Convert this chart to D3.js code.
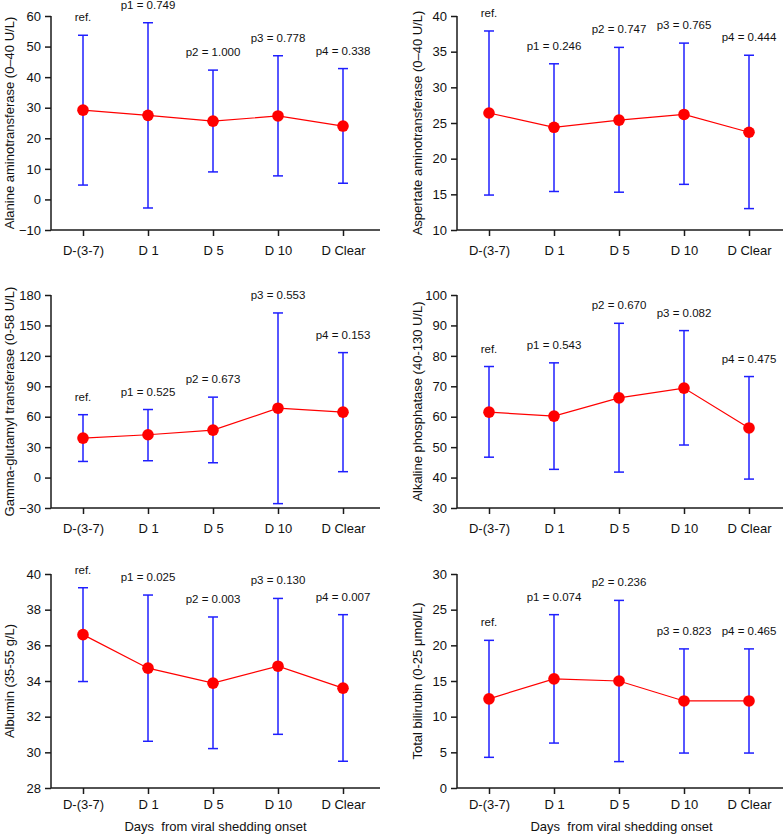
<!DOCTYPE html>
<html>
<head>
<meta charset="utf-8">
<script src="https://cdn.jsdelivr.net/npm/d3@7"></script>
<style>
  html, body { margin: 0; padding: 0; background: #fff; }
  svg { display: block; font-family: "Liberation Sans", Arial, Helvetica, sans-serif; }
</style>
</head>
<body>
<svg id="chart" width="783" height="835"></svg>
<script>
const categories = ["D-(3-7)", "D 1", "D 5", "D 10", "D Clear"];

const altMean  = [29.2, 27.5, 25.6, 27.3, 24.0];
const altUpper = [53.7, 57.8, 42.3, 47.0, 42.8];
const altLower = [4.7, -2.8, 9.0, 7.7, 5.3];
const altP     = ["ref.", "p1 = 0.749", "p2 = 1.000", "p3 = 0.778", "p4 = 0.338"];
const altTicks = [-10, 0, 10, 20, 30, 40, 50, 60];

const astMean  = [26.4, 24.4, 25.4, 26.2, 23.7];
const astUpper = [37.9, 33.3, 35.6, 36.2, 34.5];
const astLower = [14.9, 15.4, 15.3, 16.4, 13.0];
const astP     = ["ref.", "p1 = 0.246", "p2 = 0.747", "p3 = 0.765", "p4 = 0.444"];
const astTicks = [10, 15, 20, 25, 30, 35, 40];

const ggtMean  = [38.9, 42.2, 46.8, 68.4, 64.5];
const ggtUpper = [62.0, 67.1, 79.3, 162.3, 123.2];
const ggtLower = [15.9, 16.6, 14.6, -25.7, 5.8];
const ggtP     = ["ref.", "p1 = 0.525", "p2 = 0.673", "p3 = 0.553", "p4 = 0.153"];
const ggtTicks = [-30, 0, 30, 60, 90, 120, 150, 180];

const alpMean  = [61.5, 60.2, 66.2, 69.4, 56.3];
const alpUpper = [76.5, 77.7, 90.7, 88.3, 73.2];
const alpLower = [46.7, 42.7, 41.8, 50.7, 39.5];
const alpP     = ["ref.", "p1 = 0.543", "p2 = 0.670", "p3 = 0.082", "p4 = 0.475"];
const alpTicks = [30, 40, 50, 60, 70, 80, 90, 100];

const albMean  = [36.6, 34.72, 33.88, 34.83, 33.6];
const albUpper = [39.23, 38.82, 37.59, 38.63, 37.72];
const albLower = [33.97, 30.62, 30.21, 31.01, 29.5];
const albP     = ["ref.", "p1 = 0.025", "p2 = 0.003", "p3 = 0.130", "p4 = 0.007"];
const albTicks = [28, 30, 32, 34, 36, 38, 40];

const tbilMean  = [12.5, 15.3, 15.0, 12.2, 12.2];
const tbilUpper = [20.7, 24.3, 26.3, 19.5, 19.5];
const tbilLower = [4.3, 6.3, 3.7, 4.9, 4.9];
const tbilP     = ["ref.", "p1 = 0.074", "p2 = 0.236", "p3 = 0.823", "p4 = 0.465"];
const tbilTicks = [0, 5, 10, 15, 20, 25, 30];

const xTitle = "Days  from viral shedding onset";

const panels = [
  { title: "Alanine aminotransferase (0\u201340 U/L)", mean: altMean, upper: altUpper, lower: altLower, p: altP, ticks: altTicks,
    x0: 51, top: 16, bottom: 230, labGap: 25, titleX: 9, xTitle: false },
  { title: "Aspertate aminotransferase (0\u201340 U/L)", mean: astMean, upper: astUpper, lower: astLower, p: astP, ticks: astTicks,
    x0: 457, top: 16, bottom: 230, labGap: 25, titleX: 417, xTitle: false },
  { title: "Gamma-glutamyl transferase (0-58 U/L)", mean: ggtMean, upper: ggtUpper, lower: ggtLower, p: ggtP, ticks: ggtTicks,
    x0: 51, top: 295, bottom: 508, labGap: 25, titleX: 9, xTitle: false },
  { title: "Alkaline phosphatase (40-130 U/L)", mean: alpMean, upper: alpUpper, lower: alpLower, p: alpP, ticks: alpTicks,
    x0: 457, top: 295, bottom: 508, labGap: 25, titleX: 417, xTitle: false },
  { title: "Albumin (35-55 g/L)", mean: albMean, upper: albUpper, lower: albLower, p: albP, ticks: albTicks,
    x0: 51, top: 574, bottom: 788, labGap: 21, titleX: 9, xTitle: true },
  { title: "Total bilirubin (0-25 \u03bcmol/L)", mean: tbilMean, upper: tbilUpper, lower: tbilLower, p: tbilP, ticks: tbilTicks,
    x0: 457, top: 574, bottom: 788, labGap: 21, titleX: 417, xTitle: true }
];

const svg = d3.select("#chart");
const RED = "#ff0000", BLUE = "#1f1fff", AXIS = "#1a1a1a";

panels.forEach(pn => {
  const g = svg.append("g");
  const axisEnd = pn.x0 + 329;
  const x = d3.scalePoint().domain(categories).range([pn.x0 + 32, pn.x0 + 292]);
  const y = d3.scaleLinear().domain([pn.ticks[0], pn.ticks[pn.ticks.length - 1]]).range([pn.bottom, pn.top]);

  // Y axis
  const yAxis = g.append("g").attr("transform", `translate(${pn.x0},0)`)
    .call(d3.axisLeft(y).tickValues(pn.ticks).tickSize(6).tickPadding(4).tickFormat(d3.format("d")));
  yAxis.select(".domain").attr("stroke", AXIS).attr("stroke-width", 1.5).attr("d", `M0,${pn.top}V${pn.bottom}`);
  yAxis.selectAll(".tick line").attr("stroke", AXIS).attr("stroke-width", 1.5);
  yAxis.selectAll(".tick text").attr("fill", "#111").style("font-size", "13px").style("font-family", "Liberation Sans, Arial, sans-serif");

  // X axis
  const xAxis = g.append("g").attr("transform", `translate(0,${pn.bottom})`)
    .call(d3.axisBottom(x).tickSize(6).tickPadding(pn.labGap - 15));
  xAxis.select(".domain").attr("stroke", AXIS).attr("stroke-width", 1.5).attr("d", `M${pn.x0},0H${axisEnd}`);
  xAxis.selectAll(".tick line").attr("stroke", AXIS).attr("stroke-width", 1.5);
  xAxis.selectAll(".tick text").attr("fill", "#111").style("font-size", "13px").style("font-family", "Liberation Sans, Arial, sans-serif");

  // Y title
  g.append("text")
    .attr("transform", `translate(${pn.titleX},${(pn.top + pn.bottom) / 2}) rotate(-90)`)
    .attr("text-anchor", "middle").attr("dominant-baseline", "central")
    .style("font-size", "13px").attr("fill", "#111")
    .text(pn.title);

  if (pn.xTitle) {
    g.append("text")
      .attr("x", (pn.x0 + axisEnd) / 2).attr("y", 831)
      .attr("text-anchor", "middle")
      .style("font-size", "13px").style("white-space", "pre").attr("xml:space", "preserve").attr("fill", "#111")
      .text(xTitle);
  }

  const idx = d3.range(categories.length);

  // Error bars
  const eb = g.append("g").attr("stroke", BLUE).attr("stroke-width", 1.5).attr("fill", "none");
  idx.forEach(i => {
    const cx = x(categories[i]);
    eb.append("line").attr("x1", cx).attr("x2", cx).attr("y1", y(pn.upper[i])).attr("y2", y(pn.lower[i]));
    eb.append("line").attr("x1", cx - 5).attr("x2", cx + 5).attr("y1", y(pn.upper[i])).attr("y2", y(pn.upper[i]));
    eb.append("line").attr("x1", cx - 5).attr("x2", cx + 5).attr("y1", y(pn.lower[i])).attr("y2", y(pn.lower[i]));
  });

  // Mean line
  const line = d3.line().x(i => x(categories[i])).y(i => y(pn.mean[i]));
  g.append("path").attr("d", line(idx)).attr("fill", "none").attr("stroke", RED).attr("stroke-width", 1.2);

  // Dots
  g.selectAll("circle.dot").data(idx).join("circle").attr("class", "dot")
    .attr("cx", i => x(categories[i])).attr("cy", i => y(pn.mean[i])).attr("r", 5.8).attr("fill", RED);

  // p labels
  g.selectAll("text.plab").data(idx).join("text").attr("class", "plab")
    .attr("x", i => x(categories[i])).attr("y", i => y(pn.upper[i]) - 14)
    .attr("text-anchor", "middle").style("font-size", "11.5px").attr("fill", "#111")
    .text(i => pn.p[i]);
});
</script>
</body>
</html>
